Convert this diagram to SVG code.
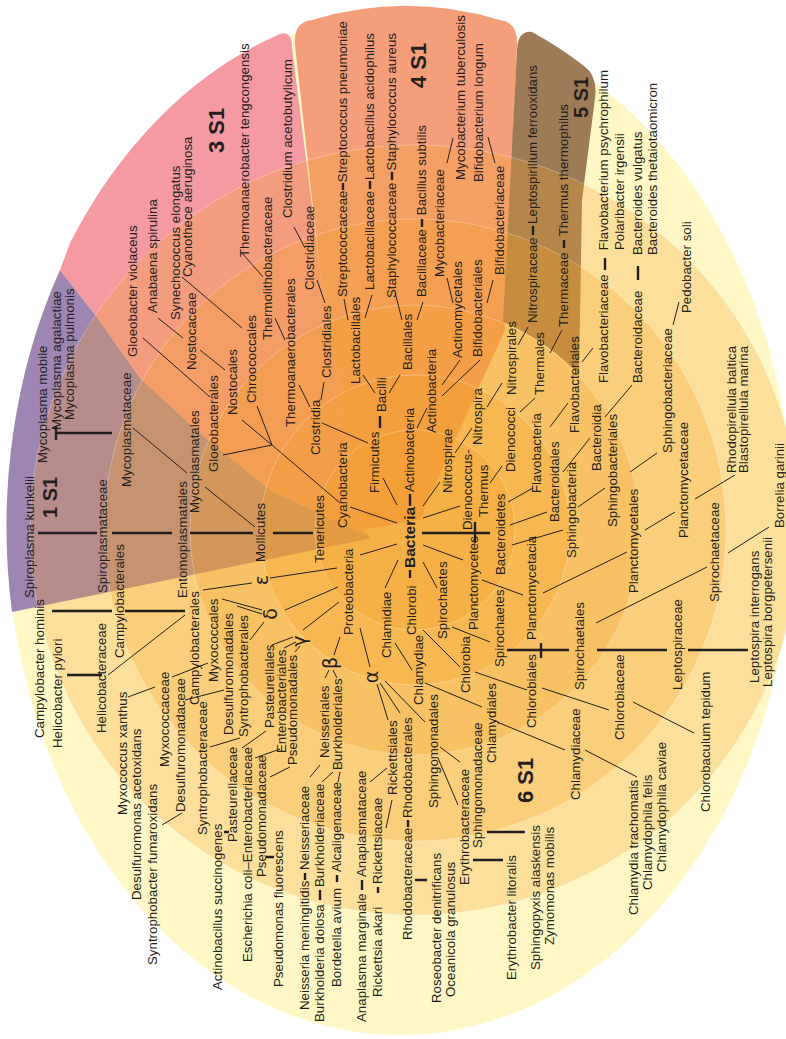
<svg xmlns="http://www.w3.org/2000/svg" width="786" height="1039" viewBox="0 0 786 1039">
<style>
.t{font-family:"Liberation Sans",Arial,sans-serif;font-size:13.3px;fill:#231F20}
.e{text-anchor:end}
.b{font-family:"Liberation Sans",Arial,sans-serif;font-weight:bold;font-size:22px;fill:#231F20}
.bb{font-family:"Liberation Sans",Arial,sans-serif;font-weight:bold;font-size:15.5px;fill:#231F20}
.g{font-family:"DejaVu Sans",sans-serif;font-size:19px;fill:#231F20;text-anchor:middle;dominant-baseline:central}
.ring{fill:#F5A027;fill-opacity:0.28;stroke:#FFFFFF;stroke-opacity:0.35;stroke-width:0.8}
.thin{fill:none;stroke:#231F20;stroke-width:1}
.thick{fill:none;stroke:#231F20;stroke-width:2.4}
</style>
<rect width="786" height="1039" fill="#FFFFFF"/>
<g id="background">
<ellipse cx="400" cy="525" rx="393" ry="510" fill="#FFF7C6"/>
<path id="s1" fill="#9E86B2" d="M372 538 L12 612 A393 510 0 0 1 60 270 L97 317 L140 378 L200 433 L270 490 Z"/>
<path id="s3" fill="#F49AA0" d="M60 270 L70 243 A406 519 0 0 1 280 34 Q292 30 292 48 L320 270 L362 530 L372 538 L270 490 L200 433 L140 378 L97 317 Z"/>
<path id="s4" fill="#F49E7A" d="M362 530 L320 270 L295 45 Q293 22 312 20 A406 519 0 0 1 500 20 Q518 22 517 45 L505 330 L455 440 L420 520 Z"/>
<path id="s5" fill="#9D7B57" d="M503 322 L517 50 Q518 30 532 32 A406 519 0 0 1 584 66 Q598 76 595 98 L582 200 L579 375 A225 225 0 0 0 503 322 Z"/>
<circle class="ring" cx="415" cy="530" r="385"/>
<circle class="ring" cx="415" cy="530" r="311"/>
<circle class="ring" cx="415" cy="530" r="225"/>
<circle class="ring" cx="415" cy="530" r="155"/>
<circle class="ring" cx="415" cy="530" r="100"/>
</g>
<g id="connectors">
<path class="thin" d="M242 253L263 277 M294 227L305 248 M453 138L447 163 M488 137L495 163 M673 325L679 302 M735 475L695 499 M728 553L769 527 M596 623L707 567 M543 593L627 552 M645 530L675 512 M423 545L463 560 M482 580L523 595 M423 562L437 588 M452 627L490 642 M423 630L460 667 M475 672L527 690 M542 688L609 710 M633 702L694 733 M398 560L385 588 M395 643L412 670 M425 683L482 707 M497 722L565 750 M585 750L637 777 M360 555L397 544 M270 578L337 568 M285 610L338 587 M303 630L339 602 M334 655L340 637 M360 628L370 667 M377 684L388 720 M380 683L400 713 M385 681L425 722 M440 747L460 762 M438 758L458 805 M386 828L392 800 M370 782L387 768 M310 777L320 765 M322 782L333 772 M338 782L340 772 M325 678L329 670 M337 678L333 670 M272 645L293 637 M284 648L296 642 M295 652L300 646 M242 748L266 731 M255 758L280 749 M270 777L290 767 M210 747L240 738 M185 700L224 690 M172 677L208 663 M128 697L155 687 M162 825L182 813 M222 599L262 610 M237 606L262 614 M250 640L264 622 M203 590L252 583 M108 675L185 615 M133 428L187 473 M205 487L255 527 M143 338L210 397 M158 318L183 338 M182 277L242 328 M200 350L225 370 M223 455L272 445 M242 420L272 445 M257 406L272 445 M272 445L340 503 M350 507L397 523 M383 478L397 505 M322 423L368 443 M363 375L375 393 M365 318L372 295 M348 320L344 299 M389 393L400 375 M395 292L402 320 M423 302L417 320 M321 400L324 382 M310 407L299 385 M275 318L285 340 M325 303L317 280 M417 428L427 408 M442 385L460 360 M453 303L447 278 M442 396L480 360 M487 303L493 280 M423 506L440 482 M455 453L472 428 M487 407L502 383 M518 345L528 327 M423 518L460 506 M490 483L502 466 M520 412L535 398 M550 353L562 330 M582 362L593 348 M550 427L568 403 M605 417L632 385 M563 472L590 438 M578 507L605 488 M630 472L657 453 M508 502L533 488 M510 525L547 512 M512 545L563 530"/>
<path class="thick" d="M57 433H112 M56 426V440 M38 533H97 M112 533H172 M190 533H253 M273 533H313 M422 533H490 M475 522V543 M52 611H112 M125 611H185 M67 675H102 M507 650H569 M597 650H667 M688 650H748 M541 643V658 M343 183V190 M370 181V189 M392 172V180 M422 219V227 M533 226V235 M564 240V248 M605 258V270 M638 266V280 M410 494V506 M410 570V578 M380 416V428 M305 873V880 M320 890V900 M337 875V882 M362 880V890 M378 887V893 M408 820V827 M224 832H229 M266 857H274 M415 880H427 M473 860H503 M487 832H525"/>
</g>
<g id="labels">
<g id="n-sector1"><text class="b" style="font-size:20px" transform="translate(57 518) rotate(-90)">1 S1</text></g>
<g id="n-sector3"><text class="b" transform="translate(224 153) rotate(-90)">3 S1</text></g>
<g id="n-sector4"><text class="b" transform="translate(426 88) rotate(-90)">4 S1</text></g>
<g id="n-sector5"><text class="b" style="font-size:20px" transform="translate(588 118) rotate(-90)">5 S1</text></g>
<g id="n-sector6"><text class="b" transform="translate(533 803) rotate(-90)">6 S1</text></g>
<g id="n-bacteria"><text class="bb" transform="translate(415 568) rotate(-90)">Bacteria</text></g>
<g id="n-eps"><text class="g" transform="translate(261 580) rotate(-90)">ε</text></g>
<g id="n-delta"><text class="g" transform="translate(270 614) rotate(-90)">δ</text></g>
<g id="n-gamma"><text class="g" transform="translate(299 641) rotate(-90)">γ</text></g>
<g id="n-beta"><text class="g" transform="translate(330 663) rotate(-90)">β</text></g>
<g id="n-alpha"><text class="g" transform="translate(371 677) rotate(-90)">α</text></g>
<g id="n-tteng"><text class="t" transform="translate(249 257) rotate(-90)">Thermoanaerobacter tengcongensis</text></g>
<g id="n-cyanothece"><text class="t" transform="translate(192 277) rotate(-90)">Cyanothece aeruginosa</text></g>
<g id="n-synecho"><text class="t" transform="translate(180 320) rotate(-90)">Synechococcus elongatus</text></g>
<g id="n-anabaena"><text class="t" transform="translate(157 313) rotate(-90)">Anabaena spirulina</text></g>
<g id="n-gloeoviol"><text class="t" transform="translate(137 357) rotate(-90)">Gloeobacter violaceus</text></g>
<g id="n-thermolitho"><text class="t" transform="translate(272 340) rotate(-90)">Thermolithobacteraceae</text></g>
<g id="n-cacetob"><text class="t" transform="translate(292 218) rotate(-90)">Clostridium acetobutylicum</text></g>
<g id="n-clostridiaceae"><text class="t" transform="translate(314 290) rotate(-90)">Clostridiaceae</text></g>
<g id="n-strepfam"><text class="t" transform="translate(347 297) rotate(-90)">Streptococcaceae</text></g>
<g id="n-streppn"><text class="t e" transform="translate(347 21) rotate(-90)">Streptococcus pneumoniae</text></g>
<g id="n-lactofam"><text class="t" transform="translate(374 290) rotate(-90)">Lactobacillaceae</text></g>
<g id="n-lactoac"><text class="t e" transform="translate(374 33) rotate(-90)">Lactobacillus acidophilus</text></g>
<g id="n-staphfam"><text class="t" transform="translate(396 298) rotate(-90)">Staphylococcaceae</text></g>
<g id="n-staphau"><text class="t e" transform="translate(396 33) rotate(-90)">Staphylococcus aureus</text></g>
<g id="n-bacillfam"><text class="t" transform="translate(426 297) rotate(-90)">Bacillaceae</text></g>
<g id="n-bsub"><text class="t e" transform="translate(426 125) rotate(-90)">Bacillus subtilis</text></g>
<g id="n-mtb"><text class="t" transform="translate(465 180) rotate(-90)">Mycobacterium tuberculosis</text></g>
<g id="n-blongum"><text class="t" transform="translate(483 182) rotate(-90)">Bifidobacterium longum</text></g>
<g id="n-mycobfam"><text class="t" transform="translate(444 277) rotate(-90)">Mycobacteriaceae</text></g>
<g id="n-bifidofam"><text class="t" transform="translate(504 275) rotate(-90)">Bifidobacteriaceae</text></g>
<g id="n-nitrofam"><text class="t" transform="translate(537 323) rotate(-90)">Nitrospiraceae</text></g>
<g id="n-lferro"><text class="t e" transform="translate(537 65) rotate(-90)">Leptospirillum ferrooxidans</text></g>
<g id="n-thermaceae"><text class="t" transform="translate(568 327) rotate(-90)">Thermaceae</text></g>
<g id="n-tthermo"><text class="t e" transform="translate(568 104) rotate(-90)">Thermus thermophilus</text></g>
<g id="n-flavofam"><text class="t" transform="translate(608 383) rotate(-90)">Flavobacteriaceae</text></g>
<g id="n-fpsychro"><text class="t e" transform="translate(608 70) rotate(-90)">Flavobacterium psychrophilum</text></g>
<g id="n-polari"><text class="t" transform="translate(624 250) rotate(-90)">Polaribacter irgensii</text></g>
<g id="n-bactfam"><text class="t" transform="translate(642 383) rotate(-90)">Bacteroidaceae</text></g>
<g id="n-bvulg"><text class="t" transform="translate(642 255) rotate(-90)">Bacteroides vulgatus</text></g>
<g id="n-btheta"><text class="t" transform="translate(657 255) rotate(-90)">Bacteroides thetaiotaomicron</text></g>
<g id="n-pedo"><text class="t" transform="translate(691 313) rotate(-90)">Pedobacter soli</text></g>
<g id="n-sphingobfam"><text class="t" transform="translate(672 453) rotate(-90)">Sphingobacteriaceae</text></g>
<g id="n-rbaltica"><text class="t" transform="translate(736 473) rotate(-90)">Rhodopirellula baltica</text></g>
<g id="n-bmarina"><text class="t" transform="translate(748 473) rotate(-90)">Blastopirellula marina</text></g>
<g id="n-bgarinii"><text class="t" transform="translate(784 528) rotate(-90)">Borrelia garinii</text></g>
<g id="n-planctofam"><text class="t" transform="translate(688 538) rotate(-90)">Planctomycetaceae</text></g>
<g id="n-spirofam"><text class="t" transform="translate(719 602) rotate(-90)">Spirochaetaceae</text></g>
<g id="n-linterr"><text class="t" transform="translate(759 683) rotate(-90)">Leptospira interrogans</text></g>
<g id="n-lborg"><text class="t" transform="translate(772 687) rotate(-90)">Leptospira borgpetersenii</text></g>
<g id="n-leptofam"><text class="t" transform="translate(682 690) rotate(-90)">Leptospiraceae</text></g>
<g id="n-spiroord"><text class="t" transform="translate(584 690) rotate(-90)">Spirochaetales</text></g>
<g id="n-planctoord"><text class="t" transform="translate(638 593) rotate(-90)">Planctomycetales</text></g>
<g id="n-planctocl"><text class="t" transform="translate(536 640) rotate(-90)">Planctomycetacia</text></g>
<g id="n-chloroord"><text class="t" transform="translate(536 728) rotate(-90)">Chlorobiales</text></g>
<g id="n-chlorofam"><text class="t" transform="translate(624 740) rotate(-90)">Chlorobiaceae</text></g>
<g id="n-ctepidum"><text class="t" transform="translate(710 812) rotate(-90)">Chlorobaculum tepidum</text></g>
<g id="n-chlamfam"><text class="t" transform="translate(580 800) rotate(-90)">Chlamydiaceae</text></g>
<g id="n-ctrach"><text class="t" transform="translate(638 915) rotate(-90)">Chlamydia trachomatis</text></g>
<g id="n-cfelis"><text class="t" transform="translate(652 890) rotate(-90)">Chlamydophila felis</text></g>
<g id="n-ccaviae"><text class="t" transform="translate(666 872) rotate(-90)">Chlamydophila caviae</text></g>
<g id="n-chlamord"><text class="t" transform="translate(496 763) rotate(-90)">Chlamydiales</text></g>
<g id="n-chlamcl"><text class="t" transform="translate(423 705) rotate(-90)">Chlamydiae</text></g>
<g id="n-chlamph"><text class="t" transform="translate(391 658) rotate(-90)">Chlamidiae</text></g>
<g id="n-chlorobi"><text class="t" transform="translate(416 635) rotate(-90)">Chlorobi</text></g>
<g id="n-chlorobia"><text class="t" transform="translate(470 693) rotate(-90)">Chlorobia</text></g>
<g id="n-spiroph"><text class="t" transform="translate(447 639) rotate(-90)">Spirochaetes</text></g>
<g id="n-spirocl"><text class="t" transform="translate(504 667) rotate(-90)">Spirochaetes</text></g>
<g id="n-planctoph"><text class="t" transform="translate(478 630) rotate(-90)">Planctomycetes</text></g>
<g id="n-bacteroidetes"><text class="t" transform="translate(505 575) rotate(-90)">Bacteroidetes</text></g>
<g id="n-dienoph"><text class="t" transform="translate(472 530) rotate(-90)">Dienococcus-</text><text class="t" transform="translate(488 517) rotate(-90)">Thermus</text></g>
<g id="n-dienocl"><text class="t" transform="translate(515 472) rotate(-90)">Dienococci</text></g>
<g id="n-thermales"><text class="t" transform="translate(544 395) rotate(-90)">Thermales</text></g>
<g id="n-nitroord"><text class="t" transform="translate(516 395) rotate(-90)">Nitrospirales</text></g>
<g id="n-nitrocl"><text class="t" transform="translate(482 445) rotate(-90)">Nitrospira</text></g>
<g id="n-nitroph"><text class="t" transform="translate(452 493) rotate(-90)">Nitrospirae</text></g>
<g id="n-actinoph"><text class="t" transform="translate(414 492) rotate(-90)">Actinobacteria</text></g>
<g id="n-actinocl"><text class="t" transform="translate(436 433) rotate(-90)">Actinobacteria</text></g>
<g id="n-actinomyc"><text class="t" transform="translate(462 358) rotate(-90)">Actinomycetales</text></g>
<g id="n-bifidoord"><text class="t" transform="translate(482 357) rotate(-90)">Bifidobacteriales</text></g>
<g id="n-bacillales"><text class="t" transform="translate(412 370) rotate(-90)">Bacillales</text></g>
<g id="n-bacilli"><text class="t" transform="translate(386 412) rotate(-90)">Bacilli</text></g>
<g id="n-lactoord"><text class="t" transform="translate(360 384) rotate(-90)">Lactobacillales</text></g>
<g id="n-firmicutes"><text class="t" transform="translate(379 493) rotate(-90)">Firmicutes</text></g>
<g id="n-clostridia"><text class="t" transform="translate(320 455) rotate(-90)">Clostridia</text></g>
<g id="n-clostord"><text class="t" transform="translate(331 378) rotate(-90)">Clostridiales</text></g>
<g id="n-thermoanord"><text class="t" transform="translate(295 427) rotate(-90)">Thermoanaerobacterales</text></g>
<g id="n-cyanobact"><text class="t" transform="translate(347 528) rotate(-90)">Cyanobacteria</text></g>
<g id="n-tenericutes"><text class="t" transform="translate(324 563) rotate(-90)">Tenericutes</text></g>
<g id="n-mollicutes"><text class="t" transform="translate(265 562) rotate(-90)">Mollicutes</text></g>
<g id="n-proteo"><text class="t" transform="translate(353 635) rotate(-90)">Proteobacteria</text></g>
<g id="n-flavocl"><text class="t" transform="translate(541 493) rotate(-90)">Flavobacteria</text></g>
<g id="n-flavoord"><text class="t" transform="translate(579 433) rotate(-90)">Flavobacteriales</text></g>
<g id="n-bactord"><text class="t" transform="translate(559 522) rotate(-90)">Bacteroidales</text></g>
<g id="n-bactcl"><text class="t" transform="translate(601 471) rotate(-90)">Bacteroidia</text></g>
<g id="n-sphingocl"><text class="t" transform="translate(576 558) rotate(-90)">Sphingobacteria</text></g>
<g id="n-sphingoord"><text class="t" transform="translate(617 527) rotate(-90)">Sphingobacteriales</text></g>
<g id="n-gloeoord"><text class="t" transform="translate(218 472) rotate(-90)">Gloeobacterales</text></g>
<g id="n-nostocales"><text class="t" transform="translate(237 415) rotate(-90)">Nostocales</text></g>
<g id="n-chroococ"><text class="t" transform="translate(256 403) rotate(-90)">Chroococcales</text></g>
<g id="n-nostocaceae"><text class="t" transform="translate(196 370) rotate(-90)">Nostocaceae</text></g>
<g id="n-mmobile"><text class="t" transform="translate(47 463) rotate(-90)">Mycoplasma mobile</text></g>
<g id="n-magal"><text class="t" transform="translate(61 430) rotate(-90)">Mycoplasma agalactiae</text></g>
<g id="n-mpulm"><text class="t" transform="translate(74 420) rotate(-90)">Mycoplasma pulmonis</text></g>
<g id="n-mycoplfam"><text class="t" transform="translate(131 487) rotate(-90)">Mycoplasmataceae</text></g>
<g id="n-mycoplord"><text class="t" transform="translate(199 513) rotate(-90)">Mycoplasmatales</text></g>
<g id="n-entomo"><text class="t" transform="translate(187 598) rotate(-90)">Entomoplasmatales</text></g>
<g id="n-spiroplfam"><text class="t" transform="translate(107 593) rotate(-90)">Spiroplasmataceae</text></g>
<g id="n-skunk"><text class="t" transform="translate(34 598) rotate(-90)">Spiroplasma kunkelii</text></g>
<g id="n-chominis"><text class="t" transform="translate(44 738) rotate(-90)">Campylobacter hominis</text></g>
<g id="n-hpylori"><text class="t" transform="translate(62 748) rotate(-90)">Helicobacter pylori</text></g>
<g id="n-campyfam"><text class="t" transform="translate(124 658) rotate(-90)">Campylobacterales</text></g>
<g id="n-helicofam"><text class="t" transform="translate(106 733) rotate(-90)">Helicobacteraceae</text></g>
<g id="n-campyord"><text class="t" transform="translate(199 705) rotate(-90)">Campylobacterales</text></g>
<g id="n-myxoord"><text class="t" transform="translate(218 682) rotate(-90)">Myxococcales</text></g>
<g id="n-desulord"><text class="t" transform="translate(233 735) rotate(-90)">Desulfuromonadales</text></g>
<g id="n-syntroord"><text class="t" transform="translate(248 737) rotate(-90)">Syntrophobacterales</text></g>
<g id="n-mxanthus"><text class="t" transform="translate(127 815) rotate(-90)">Myxococcus xanthus</text></g>
<g id="n-myxofam"><text class="t" transform="translate(169 767) rotate(-90)">Myxococcaceae</text></g>
<g id="n-dacet"><text class="t" transform="translate(141 900) rotate(-90)">Desulfuromonas acetoxidans</text></g>
<g id="n-desulfam"><text class="t" transform="translate(185 812) rotate(-90)">Desulfuromonadaceae</text></g>
<g id="n-sfumar"><text class="t" transform="translate(157 965) rotate(-90)">Syntrophobacter fumaroxidans</text></g>
<g id="n-syntrofam"><text class="t" transform="translate(207 835) rotate(-90)">Syntrophobacteraceae</text></g>
<g id="n-asucc"><text class="t" transform="translate(222 990) rotate(-90)">Actinobacillus succinogenes</text></g>
<g id="n-pastfam"><text class="t" transform="translate(237 842) rotate(-90)">Pasteurellaceae</text></g>
<g id="n-ecoli"><text class="t" transform="translate(252 962) rotate(-90)">Escherichia coli–Enterobacteriaceae</text></g>
<g id="n-pseudofam"><text class="t" transform="translate(266 877) rotate(-90)">Pseudomonadaceae</text></g>
<g id="n-pfluor"><text class="t" transform="translate(283 987) rotate(-90)">Pseudomonas fluorescens</text></g>
<g id="n-pastord"><text class="t" transform="translate(274 728) rotate(-90)">Pasteurellales</text></g>
<g id="n-enteroord"><text class="t" transform="translate(286 753) rotate(-90)">Enterobacteriales</text></g>
<g id="n-pseudoord"><text class="t" transform="translate(297 765) rotate(-90)">Pseudomonadales</text></g>
<g id="n-neissord"><text class="t" transform="translate(329 758) rotate(-90)">Neisseriales</text></g>
<g id="n-burkord"><text class="t" transform="translate(342 770) rotate(-90)">Burkholderiales</text></g>
<g id="n-nmen"><text class="t" transform="translate(309 1010) rotate(-90)">Neisseria meningitidis</text><text class="t" transform="translate(309 870) rotate(-90)">Neisseriaceae</text></g>
<g id="n-bdolosa"><text class="t" transform="translate(324 1022) rotate(-90)">Burkholderia dolosa</text><text class="t" transform="translate(324 887) rotate(-90)">Burkholderiaceae</text></g>
<g id="n-bavium"><text class="t" transform="translate(341 987) rotate(-90)">Bordetella avium</text><text class="t" transform="translate(341 872) rotate(-90)">Alcaligenaceae</text></g>
<g id="n-amarg"><text class="t" transform="translate(366 1022) rotate(-90)">Anaplasma marginale</text><text class="t" transform="translate(366 877) rotate(-90)">Anaplasmataceae</text></g>
<g id="n-rakari"><text class="t" transform="translate(382 997) rotate(-90)">Rickettsia akari</text><text class="t" transform="translate(382 884) rotate(-90)">Rickettsiaceae</text></g>
<g id="n-rickord"><text class="t" transform="translate(397 795) rotate(-90)">Rickettsiales</text></g>
<g id="n-rhodo"><text class="t" transform="translate(412 940) rotate(-90)">Rhodobacteraceae</text><text class="t" transform="translate(412 818) rotate(-90)">Rhodobacterales</text></g>
<g id="n-rdenit"><text class="t" transform="translate(441 1003) rotate(-90)">Roseobacter denitrificans</text></g>
<g id="n-ogran"><text class="t" transform="translate(455 997) rotate(-90)">Oceanicola granulosus</text></g>
<g id="n-sphingomord"><text class="t" transform="translate(438 808) rotate(-90)">Sphingomonadales</text></g>
<g id="n-erythfam"><text class="t" transform="translate(469 885) rotate(-90)">Erythrobacteraceae</text></g>
<g id="n-sphingomfam"><text class="t" transform="translate(482 848) rotate(-90)">Sphingomonadaceae</text></g>
<g id="n-elitor"><text class="t" transform="translate(516 980) rotate(-90)">Erythrobacter litoralis</text></g>
<g id="n-salask"><text class="t" transform="translate(540 970) rotate(-90)">Sphingopyxis alaskensis</text></g>
<g id="n-zmob"><text class="t" transform="translate(554 945) rotate(-90)">Zymomonas mobilis</text></g>
</g>
</svg>
